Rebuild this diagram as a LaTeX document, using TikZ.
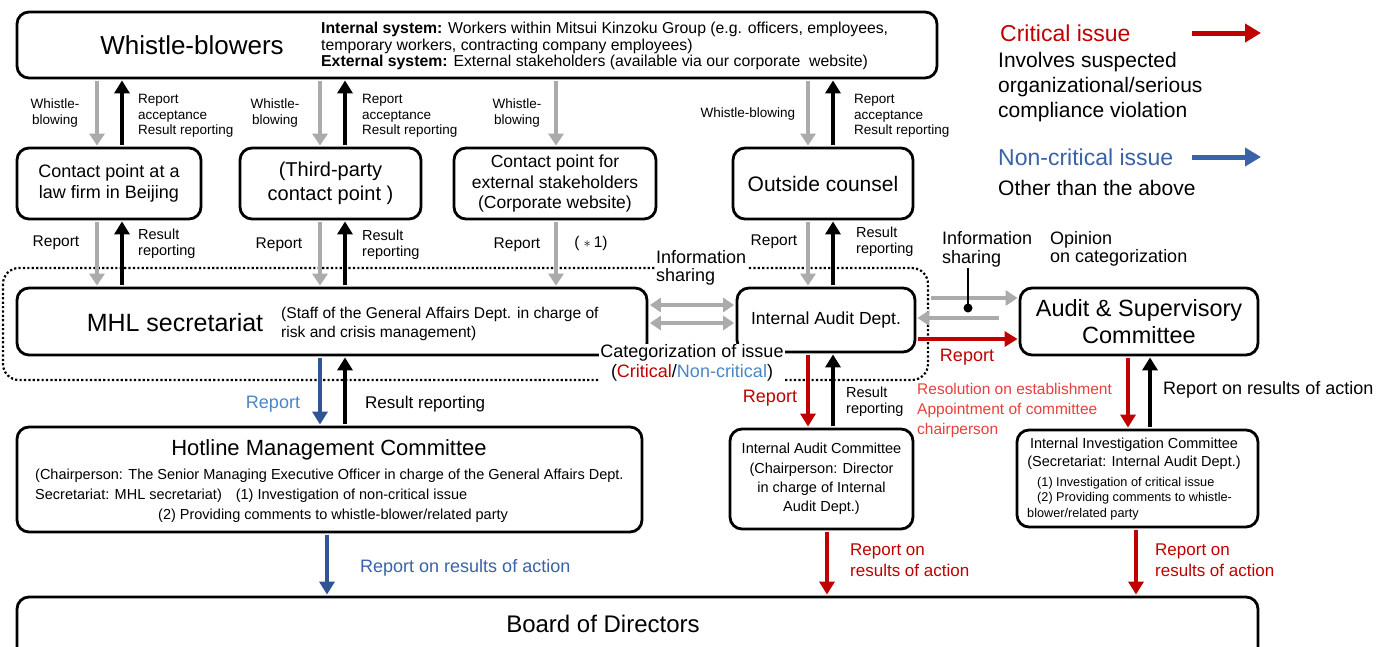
\documentclass[tikz,border=0pt]{standalone}
\usepackage{fontspec}
\setmainfont{Liberation Sans}
\usetikzlibrary{arrows.meta,calc}
\definecolor{cred}{HTML}{C00000}
\definecolor{lred}{HTML}{E8403C}
\definecolor{cblue}{HTML}{2F5597}
\definecolor{legblue}{HTML}{3A62A8}
\definecolor{lblue}{HTML}{4A86C8}
\definecolor{agray}{HTML}{ABABAB}
\newcommand\fsz[2]{\fontsize{#1pt}{#2pt}\selectfont}
\begin{document}
\begin{tikzpicture}[x=1pt,y=-1pt,
  box/.style={draw, line width=2.8pt, rounded corners=12pt, fill=white, inner sep=0pt, align=center},
  lbl/.style={inner sep=0pt, align=left, anchor=west},
  clbl/.style={inner sep=0pt, align=center},
  garr/.style={draw=agray, line width=4.5pt, -{Triangle[length=12pt,width=15pt]}, shorten <=1.5pt, shorten >=1pt},
  garrd/.style={draw=agray, line width=4pt, {Triangle[length=11pt,width=14pt]}-{Triangle[length=11pt,width=14pt]}, shorten <=1.5pt, shorten >=1.5pt},
  karr/.style={draw=black, line width=3.5pt, -{Triangle[length=13pt,width=15pt]}, shorten <=1.5pt, shorten >=1pt},
  rarr/.style={draw=cred, line width=4pt, -{Triangle[length=13pt,width=15pt]}, shorten <=1.5pt, shorten >=1pt},
  barr/.style={draw=cblue, line width=4pt, -{Triangle[length=13pt,width=15pt]}, shorten <=1.5pt, shorten >=1pt},
]
\useasboundingbox (0,0) rectangle (1379,646);
\fill[white] (0,0) rectangle (1379,646);

% column / row coordinates
\path (97,0) coordinate (g1) (122,0) coordinate (k1)
      (320,0) coordinate (g2) (345,0) coordinate (k2)
      (556,0) coordinate (g3)
      (808,0) coordinate (g4) (833,0) coordinate (k4)
      (327,0) coordinate (b5) (827,0) coordinate (r6)
      (1128,0) coordinate (r7) (1150,0) coordinate (k7) (1136,0) coordinate (r8)
      (0,305) coordinate (h1) (0,323) coordinate (h2)
      (0,298) coordinate (h3) (0,318) coordinate (h4) (0,339) coordinate (h5)
      (968,308) coordinate (dot)
      (1192,33) coordinate (lg1s) (1261,33) coordinate (lg1e)
      (1192,157) coordinate (lg2s) (1261,157) coordinate (lg2e);

% dotted frame
\draw[line width=2.2pt, dash pattern=on 2.2pt off 2.2pt, rounded corners=16pt] (3,268) rectangle (928,380);

% boxes
\node[box, minimum width=920pt, minimum height=66pt] (wb) at (477,45) {};
\node[box, minimum width=184pt, minimum height=71pt, font=\fsz{18}{21}] (cpb) at (109,183.5) {Contact point at a\\law firm in Beijing};
\node[box, minimum width=181pt, minimum height=71pt, font=\fsz{20}{24}] (tp) at (330.5,183.5) {(Third-party\\contact point )};
\node[box, minimum width=202pt, minimum height=71pt, font=\fsz{17.5}{20.5}] (ext) at (555,183.5) {Contact point for\\external stakeholders\\(Corporate website)};
\node[box, minimum width=180pt, minimum height=71pt, font=\fsz{21}{24}] (oc) at (823,183.5) {Outside counsel};
\node[box, minimum width=630pt, minimum height=67pt] (mhl) at (332,321.5) {};
\node[box, minimum width=178pt, minimum height=64pt, font=\fsz{17.5}{20}] (iad) at (826,320) {Internal Audit Dept.};
\node[box, minimum width=238pt, minimum height=67pt, font=\fsz{23.5}{27}] (asc) at (1139,321.5) {Audit \& Supervisory\\Committee};
\node[box, minimum width=625pt, minimum height=105pt] (hmc) at (329.5,479.5) {};
\node[box, minimum width=183pt, minimum height=100pt, font=\fsz{14.5}{19.3}] (iac) at (821.5,479) {Internal Audit Committee\\(Chairperson: Director\\in charge of Internal\\Audit Dept.)};
\node[box, minimum width=241pt, minimum height=97pt] (iic) at (1137.5,478.5) {};
\node[box, minimum width=1241pt, minimum height=63pt] (bod) at (637.5,628.5) {};

% box texts
\node[clbl, font=\fsz{26}{30}] (wbt) at (192,45) {Whistle-blowers};
\node[lbl, font=\fsz{15.8}{16.5}] (wbd) at (321,46) {\textbf{Internal system:} Workers within Mitsui Kinzoku Group (e.g. officers, employees,\\temporary workers, contracting company employees)\\\textbf{External system:} External stakeholders (available via our corporate\ \ website)};
\node[clbl, font=\fsz{25}{30}] (mhlt) at (175,323) {MHL secretariat};
\node[lbl, font=\fsz{15.6}{19}] (mhld) at (281,323.5) {(Staff of the General Affairs Dept. in charge of\\risk and crisis management)};
\node[clbl, font=\fsz{22}{26}] (hmct) at (329,450) {Hotline Management Committee};
\node[lbl, font=\fsz{14.5}{16}] (hmc1) at (35,476) {(Chairperson: The Senior Managing Executive Officer in charge of the General Affairs Dept.};
\node[lbl, font=\fsz{14.5}{16}] (hmc2) at (35,496) {Secretariat: MHL secretariat)\hspace{14pt}(1) Investigation of non-critical issue};
\node[lbl, font=\fsz{14.5}{16}] (hmc3) at (158,516) {(2) Providing comments to whistle-blower/related party};
\node[clbl, font=\fsz{14.5}{18}] (iict) at (1134,454) {Internal Investigation Committee\\(Secretariat: Internal Audit Dept.)};
\node[lbl, font=\fsz{12.7}{15.5}] (iic1) at (1037,483) {(1) Investigation of critical issue};
\node[lbl, font=\fsz{12.7}{15.5}] (iic2) at (1027,506) {\hspace{10pt}(2) Providing comments to whistle-\\blower/related party};
\node[clbl, font=\fsz{24}{28}] (bodt) at (603,624) {Board of Directors};

% top arrows
\draw[garr] (wb.south -| g1) -- (cpb.north -| g1);
\draw[karr] (cpb.north -| k1) -- (wb.south -| k1);
\draw[garr] (wb.south -| g2) -- (tp.north -| g2);
\draw[karr] (tp.north -| k2) -- (wb.south -| k2);
\draw[garr] (wb.south -| g3) -- (ext.north -| g3);
\draw[garr] (wb.south -| g4) -- (oc.north -| g4);
\draw[karr] (oc.north -| k4) -- (wb.south -| k4);

% second row arrows
\draw[garr] (cpb.south -| g1) -- (mhl.north -| g1);
\draw[karr] (mhl.north -| k1) -- (cpb.south -| k1);
\draw[garr] (tp.south -| g2) -- (mhl.north -| g2);
\draw[karr] (mhl.north -| k2) -- (tp.south -| k2);
\draw[garr] (ext.south -| g3) -- (mhl.north -| g3);
\draw[garr] (oc.south -| g4) -- (iad.north -| g4);
\draw[karr] (iad.north -| k4) -- (oc.south -| k4);

% horizontal arrows
\draw[garrd] (mhl.east |- h1) -- (iad.west |- h1);
\draw[garrd] (mhl.east |- h2) -- (iad.west |- h2);
\draw[garr, shorten <=15pt] (iad.east |- h3) -- (asc.west |- h3);
\draw[garr, shorten <=20pt] (asc.west |- h4) -- (iad.east |- h4);
\draw[rarr] (iad.east |- h5) -- (asc.west |- h5);

% lower arrows
\draw[barr] (mhl.south -| g2) -- (hmc.north -| g2);
\draw[karr] (hmc.north -| k2) -- (mhl.south -| k2);
\draw[rarr] (iad.south -| g4) -- (iac.north -| g4);
\draw[karr] (iac.north -| k4) -- (iad.south -| k4);
\draw[rarr] (asc.south -| r7) -- (iic.north -| r7);
\draw[karr] (iic.north -| k7) -- (asc.south -| k7);
\draw[barr] (hmc.south -| b5) -- (bod.north -| b5);
\draw[rarr] (iac.south -| r6) -- (bod.north -| r6);
\draw[rarr] (iic.south -| r8) -- (bod.north -| r8);

% labels
\begin{scope}[font=\fsz{13.5}{15.5}]
\node[clbl] (l1) at (55,113) {Whistle-\\blowing};
\node[lbl] (l2) at (138,116) {Report\\acceptance\\Result reporting};
\node[clbl] (l3) at (275,113) {Whistle-\\blowing};
\node[lbl] (l4) at (362,116) {Report\\acceptance\\Result reporting};
\node[clbl] (l5) at (517,113) {Whistle-\\blowing};
\node[clbl] (l6) at (748,114) {Whistle-blowing};
\node[lbl] (l7) at (854,116) {Report\\acceptance\\Result reporting};
\end{scope}
\begin{scope}[font=\fsz{15.5}{16}]
\node[clbl] (l8) at (56,243) {Report};
\node[clbl] (l10) at (279,245) {Report};
\node[clbl] (l12) at (517,245) {Report};
\node[clbl] (l13) at (591,243) {(\hspace{4pt}$\ast$\hspace{3pt}1)};
\node[clbl] (l14) at (774,242) {Report};
\end{scope}
\begin{scope}[font=\fsz{14.5}{16}]
\node[lbl] (l9) at (138,244) {Result\\reporting};
\node[lbl] (l11) at (362,245) {Result\\reporting};
\node[lbl] (l15) at (856,242) {Result\\reporting};
\node[lbl] (l24) at (846,402) {Result\\reporting};
\end{scope}
\node[lbl, font=\fsz{18}{18}, fill=white, inner sep=1pt] (l16) at (655,268) {Information\\sharing};
\node[lbl, font=\fsz{18}{19}] (l17) at (942,249.5) {Information\\sharing};
\node[lbl, font=\fsz{18}{18}] (l18) at (1050,249) {Opinion\\on categorization};
\draw[line width=1.8pt] (l17.south -| dot) -- (dot);
\fill (dot) circle (4.5pt);
\node[clbl, font=\fsz{18}{20}, text=cred] (l19) at (967,357) {Report};
\node[clbl, font=\fsz{18}{20}, fill=white, inner sep=1pt] (l20) at (692,363) {Categorization of issue\\(\textcolor{cred}{Critical}/\textcolor{lblue}{Non-critical})};
\node[clbl, font=\fsz{18}{20}, text=lblue] (l21) at (273,404) {Report};
\node[lbl, font=\fsz{17}{20}] (l22) at (365,404) {Result reporting};
\node[clbl, font=\fsz{18}{20}, text=cred] (l23) at (770,398) {Report};
\node[lbl, font=\fsz{15.5}{20}, text=lred] (l25) at (917,410) {Resolution on establishment\\Appointment of committee\\chairperson};
\node[lbl, font=\fsz{18}{20}] (l26) at (1163,390) {Report on results of action};
\node[lbl, font=\fsz{18}{20}, text=legblue] (l27) at (360,568) {Report on results of action};
\node[lbl, font=\fsz{17}{21}, text=cred] (l28) at (850,560.5) {Report on\\results of action};
\node[lbl, font=\fsz{17}{21}, text=cred] (l29) at (1155,560.5) {Report on\\results of action};

% legend
\node[lbl, font=\fsz{23}{26}, text=cred] (crit) at (1000,33) {Critical issue};
\node[lbl, font=\fsz{21}{25}] (critd) at (998,87) {Involves suspected\\organizational/serious\\compliance violation};
\node[lbl, font=\fsz{23}{26}, text=legblue] (ncrit) at (998,157) {Non-critical issue};
\node[lbl, font=\fsz{21}{25}] (ncritd) at (998,188) {Other than the above};
\draw[draw=cred, line width=5pt, -{Triangle[length=16pt,width=18pt]}] (lg1s) -- (lg1e);
\draw[draw=legblue, line width=5pt, -{Triangle[length=16pt,width=18pt]}] (lg2s) -- (lg2e);
\end{tikzpicture}
\end{document}
